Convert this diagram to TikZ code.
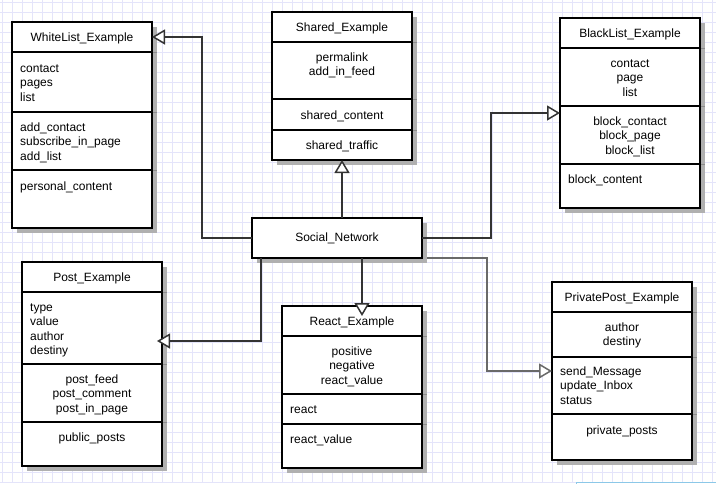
\documentclass[tikz,border=0pt]{standalone}
\usepackage{fontspec}
\setmainfont{Liberation Sans}
\usetikzlibrary{arrows.meta,calc}

\definecolor{gridc}{RGB}{228,228,250}
\definecolor{shadowc}{RGB}{176,176,176}
\definecolor{tickc}{RGB}{140,140,140}
\definecolor{linkc}{RGB}{51,51,51}
\definecolor{linkg}{RGB}{105,105,105}
\definecolor{framec}{RGB}{140,200,232}

\tikzset{
  part/.style={draw=black, line width=2.4pt, fill=white, inner sep=0pt, outer sep=0pt, anchor=north west},
  lbl/.style={inner sep=0pt, font=\fontsize{12}{14}\selectfont},
  inherit/.style={draw=linkc, line width=2pt,
    -{Triangle[length=13pt,width=15pt,fill=white,line width=1.5pt]}},
  inheritthin/.style={inherit, draw=linkg, line width=1.5pt},
}

% class box: prefix, x, y, width, heights of title / attributes / operations / last part
\newcommand\umlbox[8]{%
  \fill[shadowc] ({#2+5},{#3+5}) rectangle ({#2+#4+5},{#3+#5+#6+#7+#8+5});
  \node[part, minimum width=#4pt, minimum height=#5pt] (#1-t) at (#2,#3) {};
  \node[part, minimum width=#4pt, minimum height=#6pt] (#1-a) at (#1-t.south west) {};
  \node[part, minimum width=#4pt, minimum height=#7pt] (#1-m) at (#1-a.south west) {};
  \node[part, minimum width=#4pt, minimum height=#8pt] (#1-c) at (#1-m.south west) {};
  \foreach \p in {t,a,m} \draw[tickc, line width=1pt] ($(#1-\p.south east)+(1.2,0)$) -- ++(4,0);
}

% lines of text: name prefix, anchor, x, first baseline, list
\newcommand\rows[5]{%
  \foreach \t [count=\i] in {#5} {\node[lbl, anchor=#2] (#1-\i) at ({#3},{#4+14.5*(\i-1)}) {\t};}
}

\begin{document}
\begin{tikzpicture}[x=1pt,y=-1pt]
\useasboundingbox (0,0) rectangle (716,483);
\fill[white] (0,0) rectangle (716,483);
\foreach \x in {2,12,...,712} \draw[gridc, line width=0.8pt] (\x,0) -- (\x,483);
\foreach \y in {2,12,...,482} \draw[gridc, line width=0.8pt] (0,\y) -- (716,\y);
\draw[framec, line width=1pt] (576,482.5) rectangle (760,520);

% classes
\umlbox{wl}{12}{22}{140}{30}{60}{58}{58}
\rows{wlT}{base}{82}{41}{WhiteList\_Example}
\rows{wlA}{base west}{20}{72}{contact,pages,list}
\rows{wlM}{base west}{20}{131}{add\_contact,subscribe\_in\_page,add\_list}
\rows{wlC}{base west}{20}{190}{personal\_content}

\umlbox{sh}{272}{12}{140}{30}{57}{31}{30}
\rows{shT}{base}{342}{31}{Shared\_Example}
\rows{shA}{base}{342}{61}{permalink,add\_in\_feed}
\rows{shM}{base}{342}{119}{shared\_content}
\rows{shC}{base}{342}{149}{shared\_traffic}

\umlbox{bl}{560}{18}{140}{30}{58}{58}{44}
\rows{blT}{base}{630}{37}{BlackList\_Example}
\rows{blA}{base}{630}{67}{contact,page,list}
\rows{blM}{base}{630}{125}{block\_contact,block\_page,block\_list}
\rows{blC}{base west}{568}{183}{block\_content}

\umlbox{po}{22}{262}{140}{30}{72}{58}{44}
\rows{poT}{base}{92}{281}{Post\_Example}
\rows{poA}{base west}{30}{311}{type,value,author,destiny}
\rows{poM}{base}{92}{383}{post\_feed,post\_comment,post\_in\_page}
\rows{poC}{base}{92}{441}{public\_posts}

\umlbox{re}{282}{306}{140}{30}{58}{30}{44}
\rows{reT}{base}{352}{325}{React\_Example}
\rows{reA}{base}{352}{355}{positive,negative,react\_value}
\rows{reM}{base west}{290}{413}{react}
\rows{reC}{base west}{290}{443}{react\_value}

\umlbox{pp}{552}{282}{140}{30}{45}{57}{46}
\rows{ppT}{base}{622}{301}{PrivatePost\_Example}
\rows{ppA}{base}{622}{331}{author,destiny}
\rows{ppM}{base west}{560}{375}{send\_Message,update\_Inbox,status}
\rows{ppC}{base}{622}{434}{private\_posts}

% central class
\fill[shadowc] (257,223) rectangle (427,263);
\node[part, lbl, minimum width=170pt, minimum height=40pt] (social) at (252,218) {Social\_Network};

% generalisation links
\coordinate (kWL) at (202,238);
\draw[inherit] (social.west) -- (kWL) |- (wl-t.east);
\draw[inherit] (sh-c.south |- social.north) -- (sh-c.south);
\coordinate (kBL) at (491,113);
\draw[inherit] (social.east) -| (kBL) -- (kBL -| bl-m.west);
\coordinate (kPO) at (261,341);
\draw[inherit, shorten >=-5pt] (kPO |- social.south) -- (kPO) -- (kPO -| po-a.east);
\coordinate (kRE) at (362,306);
\draw[inherit, shorten >=-10pt] (kRE |- social.south) -- (kRE);
\coordinate (kPP) at (487,371);
\draw[inheritthin] ($(social.south east)+(5,0)$) -| (kPP) -- (kPP -| pp-m.west);
\end{tikzpicture}
\end{document}
